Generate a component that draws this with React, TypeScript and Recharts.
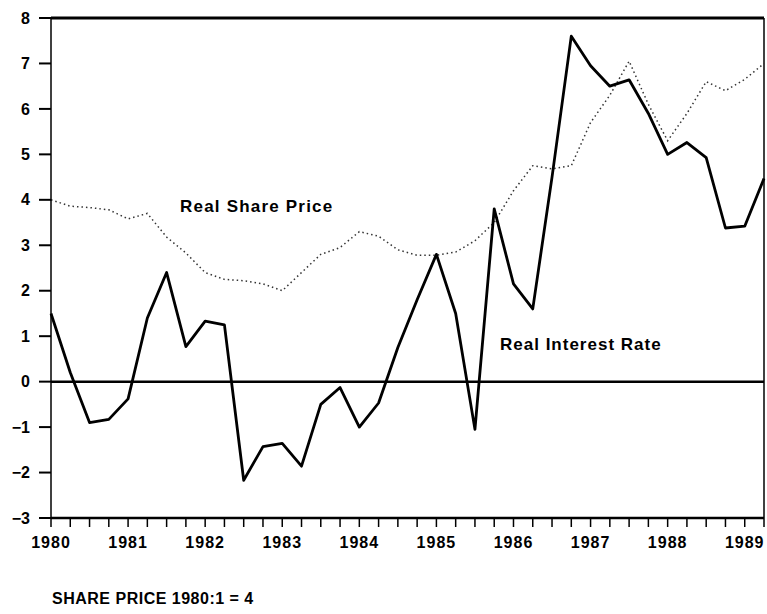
import { LineChart, Line, XAxis, YAxis, ReferenceLine } from "recharts";

// quarterly observations, 1980:1 .. 1989:2
const quarters = [
  '1980:1', '1980:2', '1980:3', '1980:4', '1981:1', '1981:2', '1981:3', '1981:4',
  '1982:1', '1982:2', '1982:3', '1982:4', '1983:1', '1983:2', '1983:3', '1983:4',
  '1984:1', '1984:2', '1984:3', '1984:4', '1985:1', '1985:2', '1985:3', '1985:4',
  '1986:1', '1986:2', '1986:3', '1986:4', '1987:1', '1987:2', '1987:3', '1987:4',
  '1988:1', '1988:2', '1988:3', '1988:4', '1989:1', '1989:2',
];

const realInterestRate = [
  1.5, 0.2, -0.9, -0.83, -0.38, 1.4, 2.4, 0.77,
  1.33, 1.25, -2.17, -1.43, -1.36, -1.86, -0.5, -0.13,
  -1.0, -0.47, 0.75, 1.8, 2.8, 1.5, -1.05, 3.8,
  2.15, 1.6, 4.5, 7.6, 6.95, 6.5, 6.64, 5.9,
  5.0, 5.26, 4.93, 3.38, 3.42, 4.47,
];

const realSharePrice = [
  4.0, 3.86, 3.83, 3.78, 3.58, 3.7, 3.18, 2.83,
  2.4, 2.25, 2.22, 2.15, 2.0, 2.4, 2.8, 2.95,
  3.3, 3.2, 2.9, 2.78, 2.78, 2.85, 3.1, 3.5,
  4.2, 4.75, 4.68, 4.75, 5.7, 6.3, 7.05, 6.1,
  5.3, 5.9, 6.6, 6.4, 6.65, 7.0,
];

const yearLabels = ['1980', '1981', '1982', '1983', '1984', '1985', '1986', '1987', '1988', '1989'];
const yTicks = [-3, -2, -1, 0, 1, 2, 3, 4, 5, 6, 7, 8];

const data = quarters.map((q, i) => ({
  i,
  q,
  rate: realInterestRate[i],
  share: realSharePrice[i],
}));

const xTicks = quarters.map((_, i) => i);

const FONT = '"Liberation Sans", Arial, sans-serif';

export default function App() {
  return (
    <div style={{ position: 'absolute', left: 0, top: 0, width: 767, height: 614, background: '#fff', fontFamily: FONT }}>
      <LineChart width={767} height={614} data={data} margin={{ top: 18, right: 3, left: 0, bottom: 66 }}>
        <XAxis
          dataKey="i"
          type="number"
          domain={[0, 37]}
          ticks={xTicks}
          interval={0}
          tickFormatter={(v: number) => (v % 4 === 0 ? yearLabels[v / 4] : '')}
          tickSize={9}
          tickMargin={10}
          height={30}
          axisLine={{ stroke: '#000', strokeWidth: 2.5 }}
          tickLine={{ stroke: '#000', strokeWidth: 1.5 }}
          tick={{ fill: '#000', fontSize: 16, fontWeight: 'bold', fontFamily: FONT, letterSpacing: 1 }}
        />
        <YAxis
          type="number"
          domain={[-3, 8]}
          ticks={yTicks}
          interval={0}
          width={51}
          tickSize={12}
          tickMargin={9}
          tickFormatter={(v: number) => (v < 0 ? '\u2212' + Math.abs(v) : String(v))}
          axisLine={{ stroke: '#000', strokeWidth: 1.5 }}
          tickLine={{ stroke: '#000', strokeWidth: 2 }}
          tick={{ fill: '#000', fontSize: 16, fontWeight: 'bold', fontFamily: FONT }}
        />
        <ReferenceLine y={8} stroke="#000" strokeWidth={3} />
        <ReferenceLine x={37} stroke="#000" strokeWidth={1.5} />
        <ReferenceLine y={0} stroke="#000" strokeWidth={2.5} />
        <Line
          dataKey="share"
          type="linear"
          stroke="#333"
          strokeWidth={1.5}
          strokeDasharray="1.5 3"
          dot={false}
          isAnimationActive={false}
        />
        <Line
          dataKey="rate"
          type="linear"
          stroke="#000"
          strokeWidth={2.8}
          strokeLinejoin="round"
          dot={false}
          isAnimationActive={false}
        />
      </LineChart>

      {/* series labels placed inside the plot */}
      <div style={{ position: 'absolute', left: 180, top: 197, fontSize: 17, fontWeight: 'bold', letterSpacing: 1.2, whiteSpace: 'nowrap' }}>
        Real Share Price
      </div>
      <div style={{ position: 'absolute', left: 500, top: 335, fontSize: 17, fontWeight: 'bold', letterSpacing: 1, whiteSpace: 'nowrap' }}>
        Real Interest Rate
      </div>
      <div style={{ position: 'absolute', left: 52, top: 590, fontSize: 16, fontWeight: 'bold', letterSpacing: 0.5, whiteSpace: 'nowrap' }}>
        SHARE PRICE 1980:1 = 4
      </div>
    </div>
  );
}
